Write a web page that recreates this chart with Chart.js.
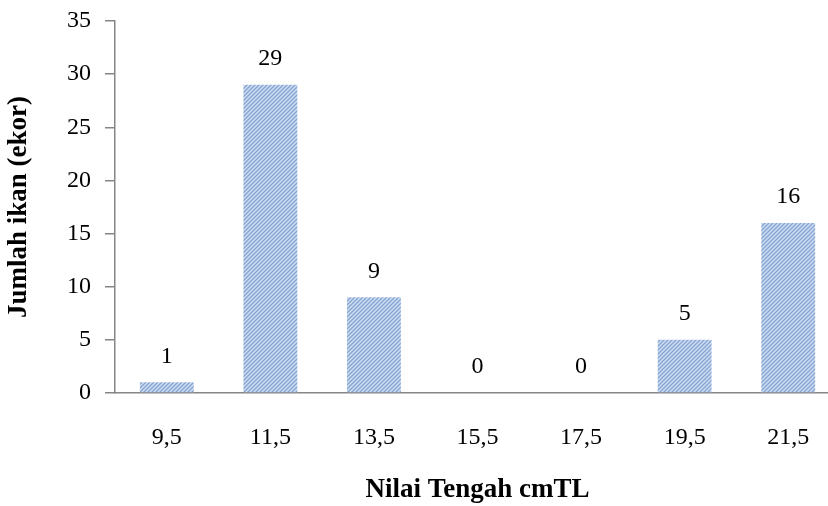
<!DOCTYPE html>
<html>
<head>
<meta charset="utf-8">
<script src="https://cdn.jsdelivr.net/npm/chart.js@4"></script>
<style>
  html, body { margin:0; padding:0; background:#ffffff; overflow:hidden; }
  #wrap { width:840px; height:506px; position:relative; }
</style>
</head>
<body>
<div id="wrap"><canvas id="ikanChart"></canvas></div>
<script>
const kelas = ['9,5','11,5','13,5','15,5','17,5','19,5','21,5'];
const jumlah = [1, 29, 9, 0, 0, 5, 16];
const yTicks = [0, 5, 10, 15, 20, 25, 30, 35];

// hatch pattern for the bars
function buatPola() {
  const s = 4;
  const c = document.createElement('canvas');
  c.width = s; c.height = s;
  const g = c.getContext('2d');
  g.fillStyle = '#d3e0f2';
  g.fillRect(0, 0, s, s);
  g.strokeStyle = '#88a6d4';
  g.lineWidth = 1.5;
  g.beginPath();
  g.moveTo(-1, s + 1); g.lineTo(s + 1, -1);
  g.moveTo(-1, 1); g.lineTo(1, -1);
  g.moveTo(s - 1, s + 1); g.lineTo(s + 1, s - 1);
  g.stroke();
  return g.createPattern(c, 'repeat');
}

const labelPlugin = {
  id: 'labelNilai',
  afterDatasetsDraw(chart) {
    const ctx = chart.ctx;
    const meta = chart.getDatasetMeta(0);
    ctx.save();
    ctx.font = '24px "Liberation Serif"';
    ctx.fillStyle = '#000000';
    ctx.textAlign = 'center';
    ctx.textBaseline = 'middle';
    meta.data.forEach((bar, i) => {
      ctx.fillText(String(jumlah[i]), bar.x, bar.y - 26);
    });
    ctx.restore();
  }
};

const ctx = document.getElementById('ikanChart').getContext('2d');
const ikanChart = new Chart(ctx, {
  type: 'bar',
  data: {
    labels: kelas,
    datasets: [{
      data: jumlah,
      backgroundColor: buatPola(),
      borderWidth: 0,
      barPercentage: 0.52,
      categoryPercentage: 1
    }]
  },
  options: {
    responsive: true,
    maintainAspectRatio: false,
    animation: false,
    layout: { padding: { top: 21, right: 0, left: 0, bottom: 0 } },
    plugins: { legend: { display: false }, tooltip: { enabled: false } },
    scales: {
      x: {
        grid: { display: false, drawTicks: false },
        border: { display: true, color: '#868686', width: 1.5 },
        ticks: { color: '#000000', padding: 30, font: { size: 24, family: 'Liberation Serif' } },
        title: { display: true, text: 'Nilai Tengah cmTL', color: '#000000', padding: 0,
                 font: { size: 27, weight: 'bold', family: 'Liberation Serif' } },
        afterFit: s => { s.height = 113; }
      },
      y: {
        min: 0, max: 35,
        afterBuildTicks: s => { s.ticks = yTicks.map(v => ({ value: v })); },
        grid: { drawOnChartArea: false, tickLength: 10, color: '#868686', lineWidth: 1.5 },
        border: { display: true, color: '#868686', width: 1.5 },
        ticks: { color: '#000000', padding: 14, font: { size: 24, family: 'Liberation Serif' } },
        title: { display: true, text: 'Jumlah ikan (ekor)', color: '#000000', padding: { top: 3, bottom: 0 },
                 font: { size: 27, weight: 'bold', family: 'Liberation Serif' } },
        afterFit: s => { s.width = 115; s.paddingTop = 0; s.paddingBottom = 0; }
      }
    }
  },
  plugins: [labelPlugin]
});
</script>
</body>
</html>
